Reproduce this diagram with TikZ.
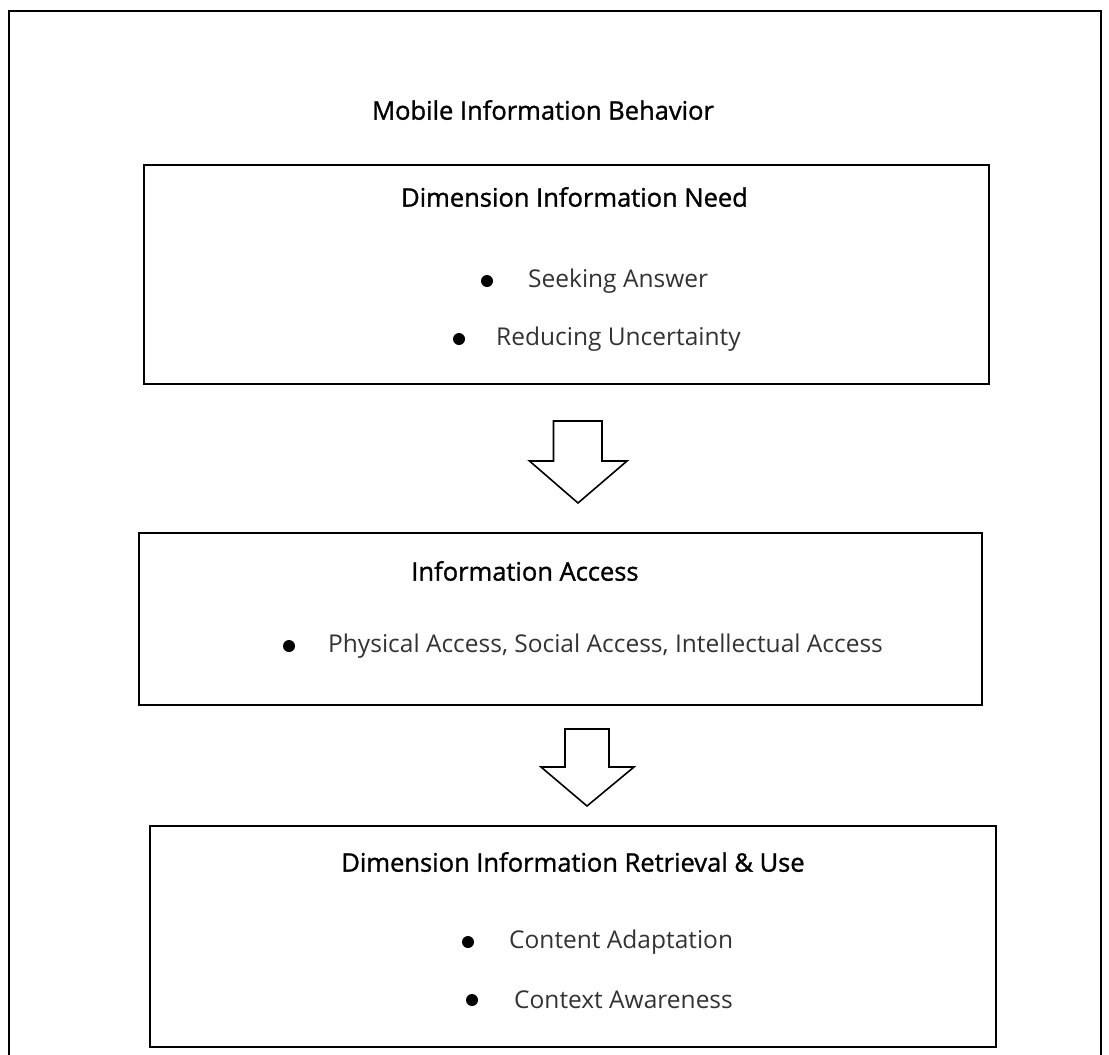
\documentclass[tikz,border=0pt]{standalone}
\usepackage{fontspec}
\setmainfont{Open Sans}
\newfontfamily\headfont{Open Sans}[FakeBold=1.2]
\usepackage{tikz}
\usetikzlibrary{positioning}

\tikzset{panel/.style={draw,rectangle,line width=1.3pt,inner sep=0pt},
  head/.style={font=\headfont\fontsize{25.5}{30}\selectfont,inner sep=0pt},
  item/.style={font=\fontsize{24.5}{29}\selectfont,text=black!80,anchor=west,inner sep=0pt},
  dot/.style={circle,fill=black,inner sep=0pt,minimum size=12pt},
  blockarrow/.style={draw,line width=1.6pt,fill=white,line join=miter}}

\begin{document}
\begin{tikzpicture}[x=1pt,y=-1pt]
\useasboundingbox (0,0) rectangle (1109,1055);
% outer frame, runs off the bottom
\draw[line width=2.4pt] (9,1080) -- (9,11) -- (1101,11) -- (1101,1080);

\node at (543,110) (M) [head]{Mobile Information Behavior};

% first dimension
\node at (566.5,274.5) (A) [panel,minimum width=845pt,minimum height=219pt]{};
\node at (574.5,197) (A0) [head]{Dimension Information Need};
\node at (487,281) (a1) [dot]{};
\node at (528,281) (A1) [item]{Seeking Answer};
\node at (459,339) (a2) [dot]{};
\node at (496,339) (A2) [item]{Reducing Uncertainty};

\coordinate (P) at (578,421);
\draw[blockarrow] (P) ++(-24.5,0) -- ++(0,40) -- ++(-24,0) -- (578,503)
  -- (627,461) -- ++(-25,0) -- ++(0,-40) -- cycle;

% access
\node at (560.5,619) (B) [panel,minimum width=843pt,minimum height=172pt]{};
\node at (525,571) (B0) [head]{Information Access};
\node at (289,646) (b1) [dot]{};
\node at (328,646) (B1) [item]{Physical Access, Social Access, Intellectual Access};

\coordinate (Q) at (587,729);
\draw[blockarrow] (Q) ++(-22,0) -- ++(0,38) -- ++(-24,0) -- (587,806)
  -- (634,767) -- ++(-25,0) -- ++(0,-38) -- cycle;

% retrieval and use
\node at (573,936.5) (C) [panel,minimum width=846pt,minimum height=221pt]{};
\node at (573,862) (C0) [head]{Dimension Information Retrieval \& Use};
\node at (468,942) (c1) [dot]{};
\node at (509,942) (C1) [item]{Content Adaptation};
\node at (472,1000) (c2) [dot]{};
\node at (514,1000) (C2) [item]{Context Awareness};
\end{tikzpicture}
\end{document}
